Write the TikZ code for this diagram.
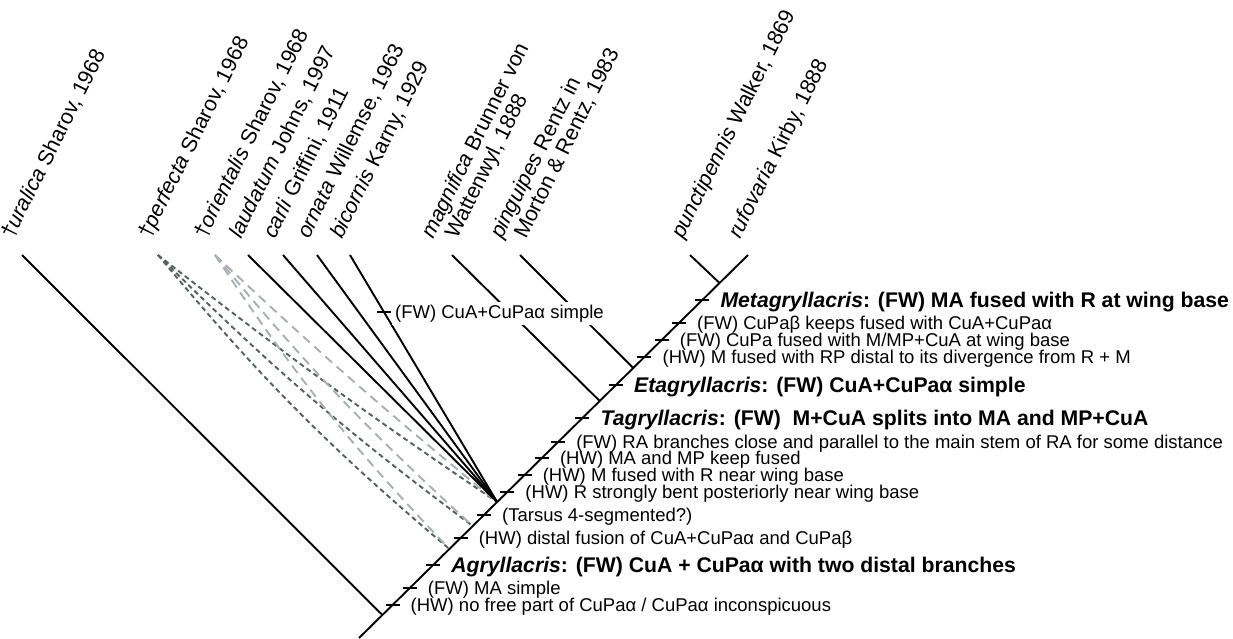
\documentclass[tikz,border=0pt]{standalone}
\usepackage{fontspec}
\setmainfont{Liberation Sans}
\usetikzlibrary{calc}
\definecolor{darkgr}{HTML}{56605F}
\definecolor{lightgr}{HTML}{A7AFB3}
\begin{document}
\begin{tikzpicture}[x=1pt,y=-1pt,
  branch/.style={line width=1.9pt,black},
  darkdash/.style={line width=1.9pt,darkgr,dash pattern=on 5pt off 3.5pt},
  lightdash/.style={line width=1.9pt,lightgr,dash pattern=on 9pt off 6pt},
  taxon/.style={rotate=63.5,anchor=base west,inner sep=0pt,font=\fontsize{21.5}{23}\selectfont},
  tickmark/.style={line width=1.6pt,black},
  note/.style={anchor=base west,inner sep=0pt,font=\fontsize{18.5}{20}\selectfont},
  headline/.style={anchor=base west,inner sep=0pt,font=\fontsize{21.2}{23}\selectfont\bfseries},
]
\useasboundingbox (0,0) rectangle (1233,638);

% tops of branches
\coordinate (tU) at (22,255);
\coordinate (tPe) at (158,255);
\coordinate (tOr) at (215,255);
\coordinate (tLa) at (248,255);
\coordinate (tCa) at (283,255);
\coordinate (tOn) at (317,255);
\coordinate (tBi) at (350,255);
\coordinate (tMa) at (452,255);
\coordinate (tPi) at (520,255);
\coordinate (tPu) at (690,255);
\coordinate (tRu) at (748,255);
\coordinate (root) at (359,638);

% junctions on the stem
\coordinate (jU) at ($(root)!{23/383}!(tRu)$);
\coordinate (jF) at ($(root)!{136/383}!(tRu)$);
\coordinate (jE2) at ($(root)!{112/383}!(tRu)$);
\coordinate (jE3) at ($(root)!{89/383}!(tRu)$);
\coordinate (jM) at ($(root)!{237/383}!(tRu)$);
\coordinate (jP) at ($(root)!{270/383}!(tRu)$);
\coordinate (jR) at ($(root)!{355/383}!(tRu)$);

% dashed fossil branches
\draw[darkdash] (tPe) to[bend right=5] (jE3);
\draw[darkdash] (tPe) to[bend right=4] (jE2);
\draw[darkdash] (tPe) to[bend right=2] (jF);
\draw[lightdash] (tOr) to[bend right=5] (jE3);
\draw[lightdash] (tOr) to[bend right=4] (jE2);
\draw[lightdash] (tOr) to[bend right=2] (jF);

% solid branches
\draw[branch] (root) -- (tRu);
\draw[branch] (tU) -- (jU);
\draw[branch] (tLa) -- (jF);
\draw[branch] (tCa) -- (jF);
\draw[branch] (tOn) -- (jF);
\draw[branch] (tBi) -- (jF);
\draw[branch] (tMa) -- (jM);
\draw[branch] (tPi) -- (jP);
\draw[branch] (tPu) -- (jR);

% taxon labels
\node[taxon] (lU) at (13,240) {†\textit{uralica} Sharov, 1968};
\node[taxon] (lPe) at (150,240) {†\textit{perfecta} Sharov, 1968};
\node[taxon] (lOr) at (206,240) {†\textit{orientalis} Sharov, 1968};
\node[taxon] (lLa) at (241,240) {\textit{laudatum} Johns, 1997};
\node[taxon] (lCa) at (275,240) {\textit{carli} Griffini, 1911};
\node[taxon] (lOn) at (309,240) {\textit{ornata} Willemse, 1963};
\node[taxon] (lBi) at (342,240) {\textit{bicornis} Karny, 1929};
\node[taxon] (lMa) at (433,240) {\textit{magnifica} Brunner von};
\node[taxon] (lMb) at (457,240) {Wattenwyl, 1888};
\node[taxon] (lPi) at (502,240) {\textit{pinguipes} Rentz in};
\node[taxon] (lPj) at (526,240) {Morton \& Rentz, 1983};
\node[taxon] (lPu) at (683,240) {\textit{punctipennis} Walker, 1869};
\node[taxon] (lRu) at (740,240) {\textit{rufovaria} Kirby, 1888};

% tick on bicornis branch
\coordinate (kB) at ($(tBi)!{57/247}!(jF)$);
\draw[tickmark] ($(kB)+(-7,0)$) -- ($(kB)+(7,0)$);
\node[note,fill=white,inner sep=3pt] (nB) at ($(kB)+(8,6)$) {(FW) CuA+CuPaα simple};

% ticks on the main stem
\foreach \yy/\nm in {300/k1,323/k2,340/k3,357/k4,385/k5,418/k6,442/k7,458/k8,475/k9,492/k10,515/k11,538/k12,565/k13,588/k14,605/k15}{
  \coordinate (\nm) at ($(root)!{(638-\yy)/383}!(tRu)$);
  \draw[tickmark] ($(\nm)+(-7,0)$) -- ($(\nm)+(7,0)$);
}

\node[headline] (n1) at ($(k1)+(18,7)$) {\textit{Metagryllacris}: (FW) MA fused with R at wing base};
\node[note] (n2) at ($(k2)+(18,6)$) {(FW) CuPaβ keeps fused with CuA+CuPaα};
\node[note] (n3) at ($(k3)+(18,6)$) {(FW) CuPa fused with M/MP+CuA at wing base};
\node[note] (n4) at ($(k4)+(18,6)$) {(HW) M fused with RP distal to its divergence from R + M};
\node[headline] (n5) at ($(k5)+(18,7)$) {\textit{Etagryllacris}: (FW) CuA+CuPaα simple};
\node[headline] (n6) at ($(k6)+(18,7)$) {\textit{Tagryllacris}: (FW) \ M+CuA splits into MA and MP+CuA};
\node[note] (n7) at ($(k7)+(18,6)$) {(FW) RA branches close and parallel to the main stem of RA for some distance};
\node[note] (n8) at ($(k8)+(18,6)$) {(HW) MA and MP keep fused};
\node[note] (n9) at ($(k9)+(18,6)$) {(HW) M fused with R near wing base};
\node[note] (n10) at ($(k10)+(18,6)$) {(HW) R strongly bent posteriorly near wing base};
\node[note] (n11) at ($(k11)+(18,6)$) {(Tarsus 4-segmented?)};
\node[note] (n12) at ($(k12)+(18,6)$) {(HW) distal fusion of CuA+CuPaα and CuPaβ};
\node[headline] (n13) at ($(k13)+(18,7)$) {\textit{Agryllacris}: (FW) CuA + CuPaα with two distal branches};
\node[note] (n14) at ($(k14)+(18,6)$) {(FW) MA simple};
\node[note] (n15) at ($(k15)+(18,6)$) {(HW) no free part of CuPaα / CuPaα inconspicuous};
\end{tikzpicture}
\end{document}
